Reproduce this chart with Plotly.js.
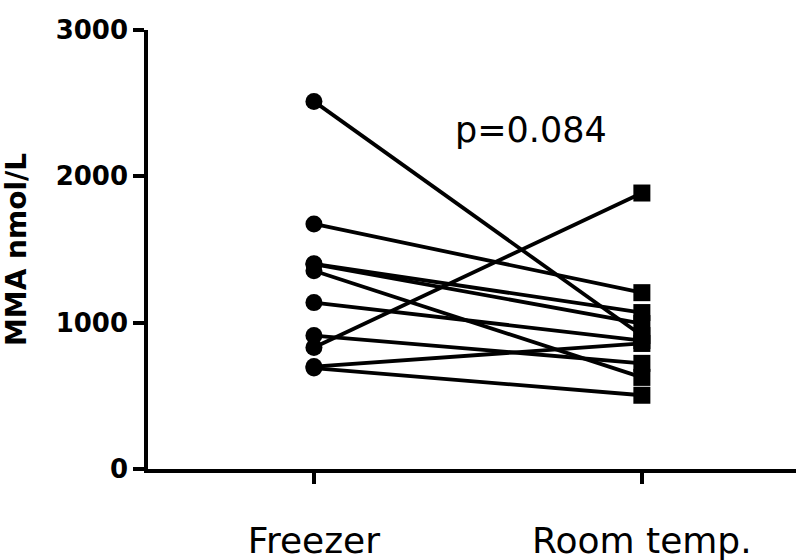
<!DOCTYPE html>
<html>
<head>
<meta charset="utf-8">
<script src="https://cdn.plot.ly/plotly-3.0.1.min.js"></script>
<style>html,body{margin:0;padding:0;background:#fff;}#chart{width:796px;height:560px;}</style>
</head>
<body>
<div id="chart"></div>
<script>
const groups = ["Freezer", "Room temp."];
const freezer = [2512, 1675, 1402, 1400, 1355, 1137, 912, 830, 700, 690];
const roomTemp = [912, 1205, 1069, 994, 626, 878, 722, 1886, 858, 504];
const yTicks = [0, 1000, 2000, 3000];
const pLabel = "p=0.084";

const FONT = "'DejaVu Sans', Arial, sans-serif";
const traces = freezer.map((f, i) => ({
  type: "scatter",
  mode: "lines+markers",
  x: [0, 1],
  y: [f, roomTemp[i]],
  line: {color: "#000", width: 3.8},
  marker: {color: "#000", size: 17, symbol: ["circle", "square"]},
  showlegend: false,
  hoverinfo: "skip"
}));

const layout = {
  width: 796, height: 560,
  margin: {l: 148, r: 0, t: 30, b: 91},
  paper_bgcolor: "#fff", plot_bgcolor: "#fff",
  showlegend: false,
  xaxis: {
    range: [-0.506, 1.47],
    tickmode: "array", tickvals: [0, 1], ticktext: groups,
    ticks: "outside", ticklen: 11, tickwidth: 3.8, tickcolor: "#000",
    showline: true, linecolor: "#000", linewidth: 3.8,
    showgrid: false, zeroline: false,
    ticklabelstandoff: 26,
    tickfont: {family: FONT, size: 36, color: "#000"}
  },
  yaxis: {
    range: [0, 3000],
    tickmode: "array", tickvals: yTicks, ticktext: yTicks.map(String),
    ticks: "outside", ticklen: 11, tickwidth: 3.8, tickcolor: "#000",
    showline: true, linecolor: "#000", linewidth: 3.8,
    showgrid: false, zeroline: false,
    tickfont: {family: FONT, size: 26, color: "#000", weight: "bold"},
    title: {text: "MMA nmol/L", standoff: 22, font: {family: FONT, size: 28, color: "#000", weight: "bold"}}
  },
  annotations: [{
    x: 0.662, y: 2318, xref: "x", yref: "y",
    text: pLabel, showarrow: false,
    font: {family: FONT, size: 35, color: "#000"}
  }]
};

Plotly.newPlot("chart", traces, layout, {displayModeBar: false, staticPlot: true});
</script>
</body>
</html>
